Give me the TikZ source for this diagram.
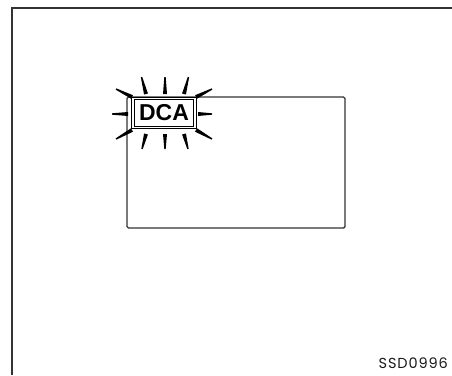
\documentclass[tikz,border=0pt]{standalone}
\usepackage{fontspec}
\setmainfont{Liberation Sans}
\newfontfamily\codefont[LetterSpace=6]{Poppins}
\usetikzlibrary{calc}
\tikzset{
  frameline/.style={draw=black!80, line width=2pt},
  screen/.style={draw=black!80, line width=1.4pt, rounded corners=1.5pt},
  dcabox/.style={draw=black, fill=white, double=white, double distance=1.6pt, line width=1pt, inner sep=0pt, minimum width=62pt, minimum height=29pt, font=\fontsize{23}{23}\selectfont\bfseries},
  codelabel/.style={font=\codefont\fontsize{14.5}{15}\selectfont, text=black!90, inner sep=0pt, anchor=south east}
}
\newcommand{\myray}[2]{%
  \fill[black] ($#1!2pt!90:#2$) -- ($#1!2pt!-90:#2$) -- ($#2!0.7pt!90:#1$) -- ($#2!0.7pt!-90:#1$) -- cycle;}
\begin{document}
\begin{tikzpicture}[x=1pt,y=-1pt]
\useasboundingbox (0,0) rectangle (452,375);
% open frame
\draw[frameline] (452,7.5) -- (11.5,7.5) -- (11.5,375);
% display screen
\draw[screen] (127,97) rectangle (345,228);
% rays
\myray{(146,94)}{(141.5,77)}
\myray{(165,94)}{(165,77)}
\myray{(184,94)}{(188.5,77)}
\myray{(146,134)}{(142,149)}
\myray{(165,134)}{(165,149)}
\myray{(184,134)}{(188,149)}
\myray{(128,114)}{(112,114)}
\myray{(132,97)}{(116,89)}
\myray{(132,130)}{(116,139)}
\myray{(198,114)}{(212,114)}
\myray{(196,97)}{(212,89)}
\myray{(196,130)}{(212,139)}
% DCA indicator
\node[dcabox] (dca) at (164,113) {DCA};
% code
\node[codelabel] (code) at (448,369) {SSD0996};
\end{tikzpicture}
\end{document}
